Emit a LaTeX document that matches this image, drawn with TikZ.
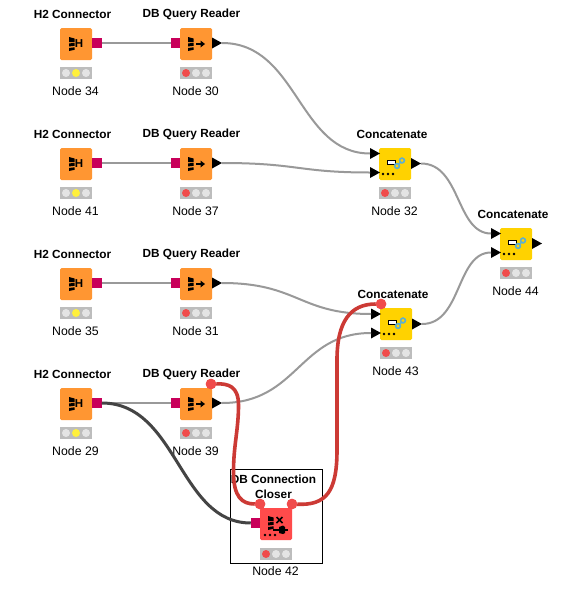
\documentclass[tikz,border=0pt]{standalone}
\usepackage{fontspec}
\setmainfont{Liberation Sans}
\definecolor{kor}{HTML}{FF9632}
\definecolor{kye}{HTML}{FFD200}
\definecolor{kre}{HTML}{FF4B4B}
\definecolor{kpt}{HTML}{C8005A}
\definecolor{kgl}{HTML}{BDBDBD}
\definecolor{kci}{HTML}{E4E4E4}
\definecolor{kwi}{HTML}{999999}
\definecolor{kdk}{HTML}{444444}
\definecolor{krd}{HTML}{CC3A35}
\definecolor{kdot}{HTML}{F04B4B}
\definecolor{kyl}{HTML}{FFF03C}
\definecolor{kbl}{HTML}{5FB0CF}
\tikzset{
  x=1pt,y=-1pt,
  knbox/.style={draw=none,fill=#1,rounded corners=1.5pt,minimum size=32pt,inner sep=0pt,outer sep=0pt},
  datain/.style={fill=kpt,draw=none,minimum width=9.5pt,minimum height=9.5pt,inner sep=0pt,outer sep=0pt},
  titlelbl/.style={font=\fontsize{11.8}{15}\selectfont\bfseries,align=center,inner sep=0pt},
  namelbl/.style={font=\fontsize{12.3}{14}\selectfont,inner sep=0pt},
  wire/.style={draw=kwi,line width=2pt},
  darkwire/.style={draw=kdk,line width=3pt},
  redwire/.style={draw=krd,line width=3.6pt},
  flowdot/.style={circle,fill=kdot,draw=none,minimum size=10.5pt,inner sep=0pt,outer sep=0pt},
}
\newcommand{\triport}[3]{%
  \coordinate (#1) at (#2,#3);
  \coordinate (#1o) at (#2+10,#3);
  \fill[black] (#2,#3-5.5) -- (#2+10,#3) -- (#2,#3+5.5) -- cycle;}
\newcommand{\lights}[4]{%
  \fill[kgl] (#1,#2) rectangle (#1+32,#2+12);
  \fill[#3] (#1+6,#2+6) circle (4pt);
  \fill[#4] (#1+16,#2+6) circle (4pt);
  \fill[kci] (#1+26,#2+6) circle (4pt);}
\newcommand{\dbglyph}[2]{%
  \fill[black] (#1,#2) -- (#1+5.5,#2+1.5) -- (#1+5.5,#2+5) -- (#1,#2+5) -- cycle;
  \fill[black] (#1,#2+6.5) -- (#1+5.5,#2+5.8) -- (#1+5.5,#2+8.8) -- (#1,#2+9.5) -- cycle;
  \fill[black] (#1,#2+11) -- (#1+5.5,#2+10.3) -- (#1+5.5,#2+12.8) -- (#1,#2+14) -- cycle;}
\newcommand{\hglyph}[2]{\dbglyph{#1}{#2}%
  \node[inner sep=0pt,font=\fontsize{11.5}{11.5}\selectfont\bfseries] at (#1+10,#2+7) {H};}
\newcommand{\arrglyph}[2]{\dbglyph{#1}{#2}%
  \draw[black,line width=1.5pt] (#1+8,#2+7) -- (#1+14,#2+7);
  \fill[black] (#1+12.5,#2+3.5) -- (#1+17,#2+7) -- (#1+12.5,#2+10.5) -- cycle;}
\newcommand{\threedots}[2]{%
  \fill[black] (#1,#2) circle (1.3pt) (#1+5,#2) circle (1.3pt) (#1+10,#2) circle (1.3pt);}
\newcommand{\concglyph}[2]{%
  \draw[black,fill=white,line width=1.1pt] (#1,#2+3.5) rectangle (#1+8,#2+7.5);
  \draw[kbl,line width=1.6pt] (#1+9.5,#2+9) circle (2.4pt);
  \draw[kbl,line width=1.6pt] (#1+14.5,#2+3.5) circle (2.4pt);
  \draw[kbl,line width=1.6pt] (#1+10.5,#2+8) -- (#1+13.5,#2+4.5);}
\begin{document}
\begin{tikzpicture}
\useasboundingbox (0,0) rectangle (566,616);
\fill[white] (0,0) rectangle (566,616);

\foreach \row/\hn/\rn in {0/34/30,120/41/37,240/35/31,360/29/39}{
  \node[knbox=kor] (h\hn) at (76,44+\row) {};
  \node[datain] (hp\hn) at (97,43+\row) {};
  \node[knbox=kor] (q\rn) at (196,44+\row) {};
  \node[datain] (qi\rn) at (175.5,43+\row) {};
  \draw[wire] (hp\hn.east) -- (qi\rn.west);
  \hglyph{69}{37+\row}
  \arrglyph{188}{37+\row}
  \lights{60}{67+\row}{kci}{kyl}
  \lights{180}{67+\row}{kdot}{kci}
  \node[titlelbl] at (72.5,14+\row) {H2 Connector};
  \node[titlelbl] at (191.5,14+\row) {DB Query Reader};
  \node[namelbl] at (75.5,91.5+\row) {Node \hn};
  \node[namelbl] at (195.5,91.5+\row) {Node \rn};
  \triport{qo\rn}{212}{43+\row}
}

\node[knbox=kye] (c32) at (395,164) {};
\node[knbox=kye] (c44) at (516,244) {};
\node[knbox=kye] (c43) at (396,324) {};
\node[knbox=kre] (c42) at (276,524) {};
\node[datain] (ci42) at (255.5,523) {};

\triport{a32}{370}{153.5}\triport{b32}{370}{172.5}\triport{o32}{411}{163.5}
\triport{a44}{491}{233.5}\triport{b44}{491}{252.5}\triport{o44}{532}{243.5}
\triport{a43}{371}{314}\triport{b43}{371}{333}\triport{o43}{412}{324}

\foreach \px/\py/\nm in {379/148/32,500/228/44,380/308/43}{
  \concglyph{\px+8.5}{\py+9}
  \threedots{\px+4}{\py+26}
  \lights{\px}{\py+39}{kdot}{kci}
  \node[namelbl] at (\px+15.5,\py+63.5) {Node \nm};
}
\node[titlelbl] at (392,134) {Concatenate};
\node[titlelbl] at (513,214) {Concatenate};
\node[titlelbl] at (393,294) {Concatenate};

\draw[black,line width=.8pt] (230.5,469.5) rectangle (322.5,563);
\dbglyph{268}{516}
\draw[black,line width=1.5pt] (273,530) -- (288,530);
\fill[black] (279,527) -- (283,525.5) -- (285,527) -- (285,533) -- (283,534) -- (279,533) -- cycle;
\draw[black,line width=1.5pt] (276.5,517) -- (282.5,523) (282.5,517) -- (276.5,523);
\threedots{265}{535}
\lights{260}{548}{kdot}{kci}
\node[titlelbl] at (273.5,486.5) {DB Connection\\Closer};
\node[namelbl] at (275.5,571.5) {Node 42};

\node[flowdot] (f39) at (211,384) {};
\node[flowdot] (f42a) at (260,504) {};
\node[flowdot] (f42b) at (292,504) {};
\node[flowdot] (f43) at (381,304) {};

\draw[wire] (qo30o) .. controls +(76,0) and +(-72,0) .. (a32);
\draw[wire] (qo37o) .. controls +(76,0) and +(-72,0) .. (b32);
\draw[wire] (qo31o) .. controls +(76,0) and +(-72,0) .. (a43);
\draw[wire] (qo39o) .. controls +(76,0) and +(-72,0) .. (b43);
\draw[wire] (o32o) .. controls +(40,0) and +(-35,0) .. (a44);
\draw[wire] (o43o) .. controls +(40,0) and +(-35,0) .. (b44);
\draw[darkwire] (hp29.east) .. controls +(76,0) and +(-72,0) .. (ci42.west);
\draw[redwire] (f39) .. controls (228,383.5) and (238.5,386) .. (238.5,405)
   .. controls (238.5,430) and (233.5,445) .. (233.5,472)
   .. controls (233.5,497) and (242,504) .. (f42a);
\draw[redwire] (f42b) .. controls (326,505.5) and (337,492) .. (337,450)
   -- (337,360) .. controls (337,322) and (350,304) .. (f43);
\node[flowdot] at (f39) {};
\node[flowdot] at (f42a) {};
\node[flowdot] at (f42b) {};
\node[flowdot] at (f43) {};
\end{tikzpicture}
\end{document}
